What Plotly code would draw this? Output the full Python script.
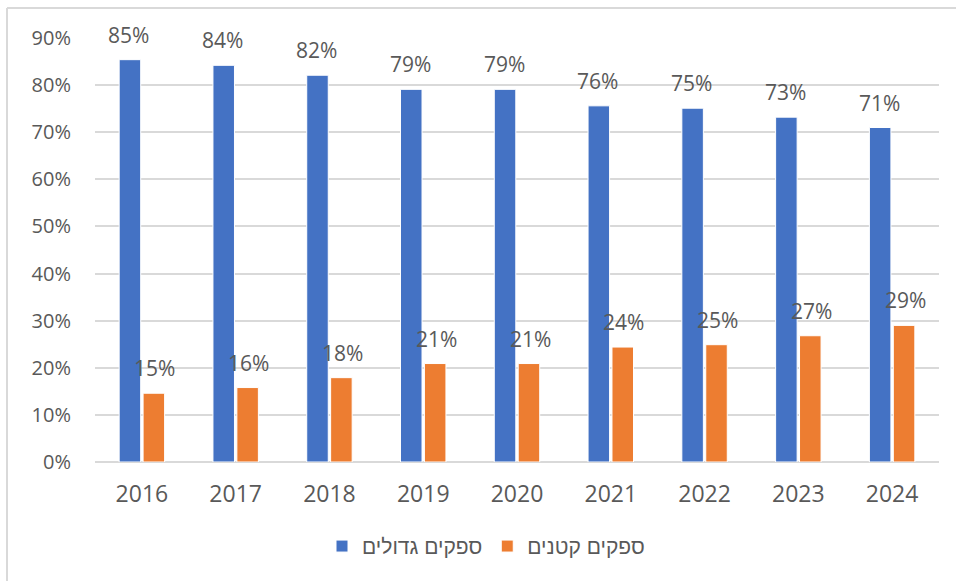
import plotly.graph_objects as go

years = ["2016", "2017", "2018", "2019", "2020", "2021", "2022", "2023", "2024"]
large_suppliers = [85.4, 84.2, 82.1, 79.1, 79.1, 75.6, 75.1, 73.2, 71.0]
small_suppliers = [14.6, 15.8, 17.9, 20.9, 20.9, 24.4, 24.9, 26.8, 29.0]
name_large = "ספקים גדולים"
name_small = "ספקים קטנים"
y_ticks = [0, 10, 20, 30, 40, 50, 60, 70, 80, 90]

BLUE = "#4472C4"
ORANGE = "#ED7D31"
FONT = "Open Sans, Noto Sans, DejaVu Sans, sans-serif"
HEB_FONT = "Liberation Sans, Arial, Noto Sans, sans-serif"

fig = go.Figure()
fig.add_bar(x=years, y=large_suppliers, name=name_large,
            marker=dict(color=BLUE, line=dict(color="white", width=1)))
fig.add_bar(x=years, y=small_suppliers, name=name_small,
            marker=dict(color=ORANGE, line=dict(color="white", width=1)))

# value labels: category axis positions are the indices of the categories
annotations = []
for i, v in enumerate(large_suppliers):
    annotations.append(dict(x=i, y=v, xref="x", yref="y", text=f"{v:.0f}%",
                            showarrow=False, xshift=-13, yshift=25,
                            font=dict(size=21, color="#595959", family=FONT)))
for i, v in enumerate(small_suppliers):
    annotations.append(dict(x=i, y=v, xref="x", yref="y", text=f"{v:.0f}%",
                            showarrow=False, xshift=13, yshift=25,
                            font=dict(size=21, color="#595959", family=FONT)))

# chart frame (top and left edges visible)
W, H = 956, 581
L, R, T, B = 95, 17, 38, 118.5
pw, ph = W - L - R, H - T - B
def px(x):
    return (x - L) / pw
def py(y):
    return (H - B - y) / ph

shapes = [
    dict(type="line", xref="paper", yref="paper", x0=px(7), x1=px(W + 5), y0=py(8), y1=py(8),
         line=dict(color="#d9d9d9", width=2)),
    dict(type="line", xref="paper", yref="paper", x0=px(7), x1=px(7), y0=py(8), y1=py(H + 5),
         line=dict(color="#d9d9d9", width=2)),
]

fig.update_layout(
    width=W, height=H,
    margin=dict(l=L, r=R, t=T, b=B, autoexpand=False),
    paper_bgcolor="white", plot_bgcolor="white",
    barmode="group", bargap=0.49, bargroupgap=0.1,
    font=dict(family=FONT, color="#595959"),
    showlegend=True,
    legend=dict(orientation="h", x=px(322), xanchor="left", y=py(547), yanchor="middle",
                font=dict(size=21, color="#595959", family=HEB_FONT),
                itemclick=False, traceorder="normal", itemwidth=30),
    annotations=annotations,
    shapes=shapes,
)
fig.update_yaxes(range=[0, 90], tickvals=y_ticks, ticktext=[f"{t}%" for t in y_ticks],
                 showgrid=True, gridcolor="#d9d9d9", gridwidth=1.5,
                 zeroline=True, zerolinecolor="#d9d9d9", zerolinewidth=1.5,
                 showline=False, ticks="", ticklabelstandoff=23,
                 tickfont=dict(size=20, color="#595959", family=FONT))
fig.update_xaxes(type="category", range=[-0.5, len(years) - 0.5],
                 showgrid=False, showline=False, ticks="", ticklabelstandoff=16,
                 tickfont=dict(size=23, color="#595959", family=FONT))

fig.write_html("out.html", config={"displayModeBar": False},
               post_script="document.body.style.margin='0';document.body.style.overflow='hidden';")
